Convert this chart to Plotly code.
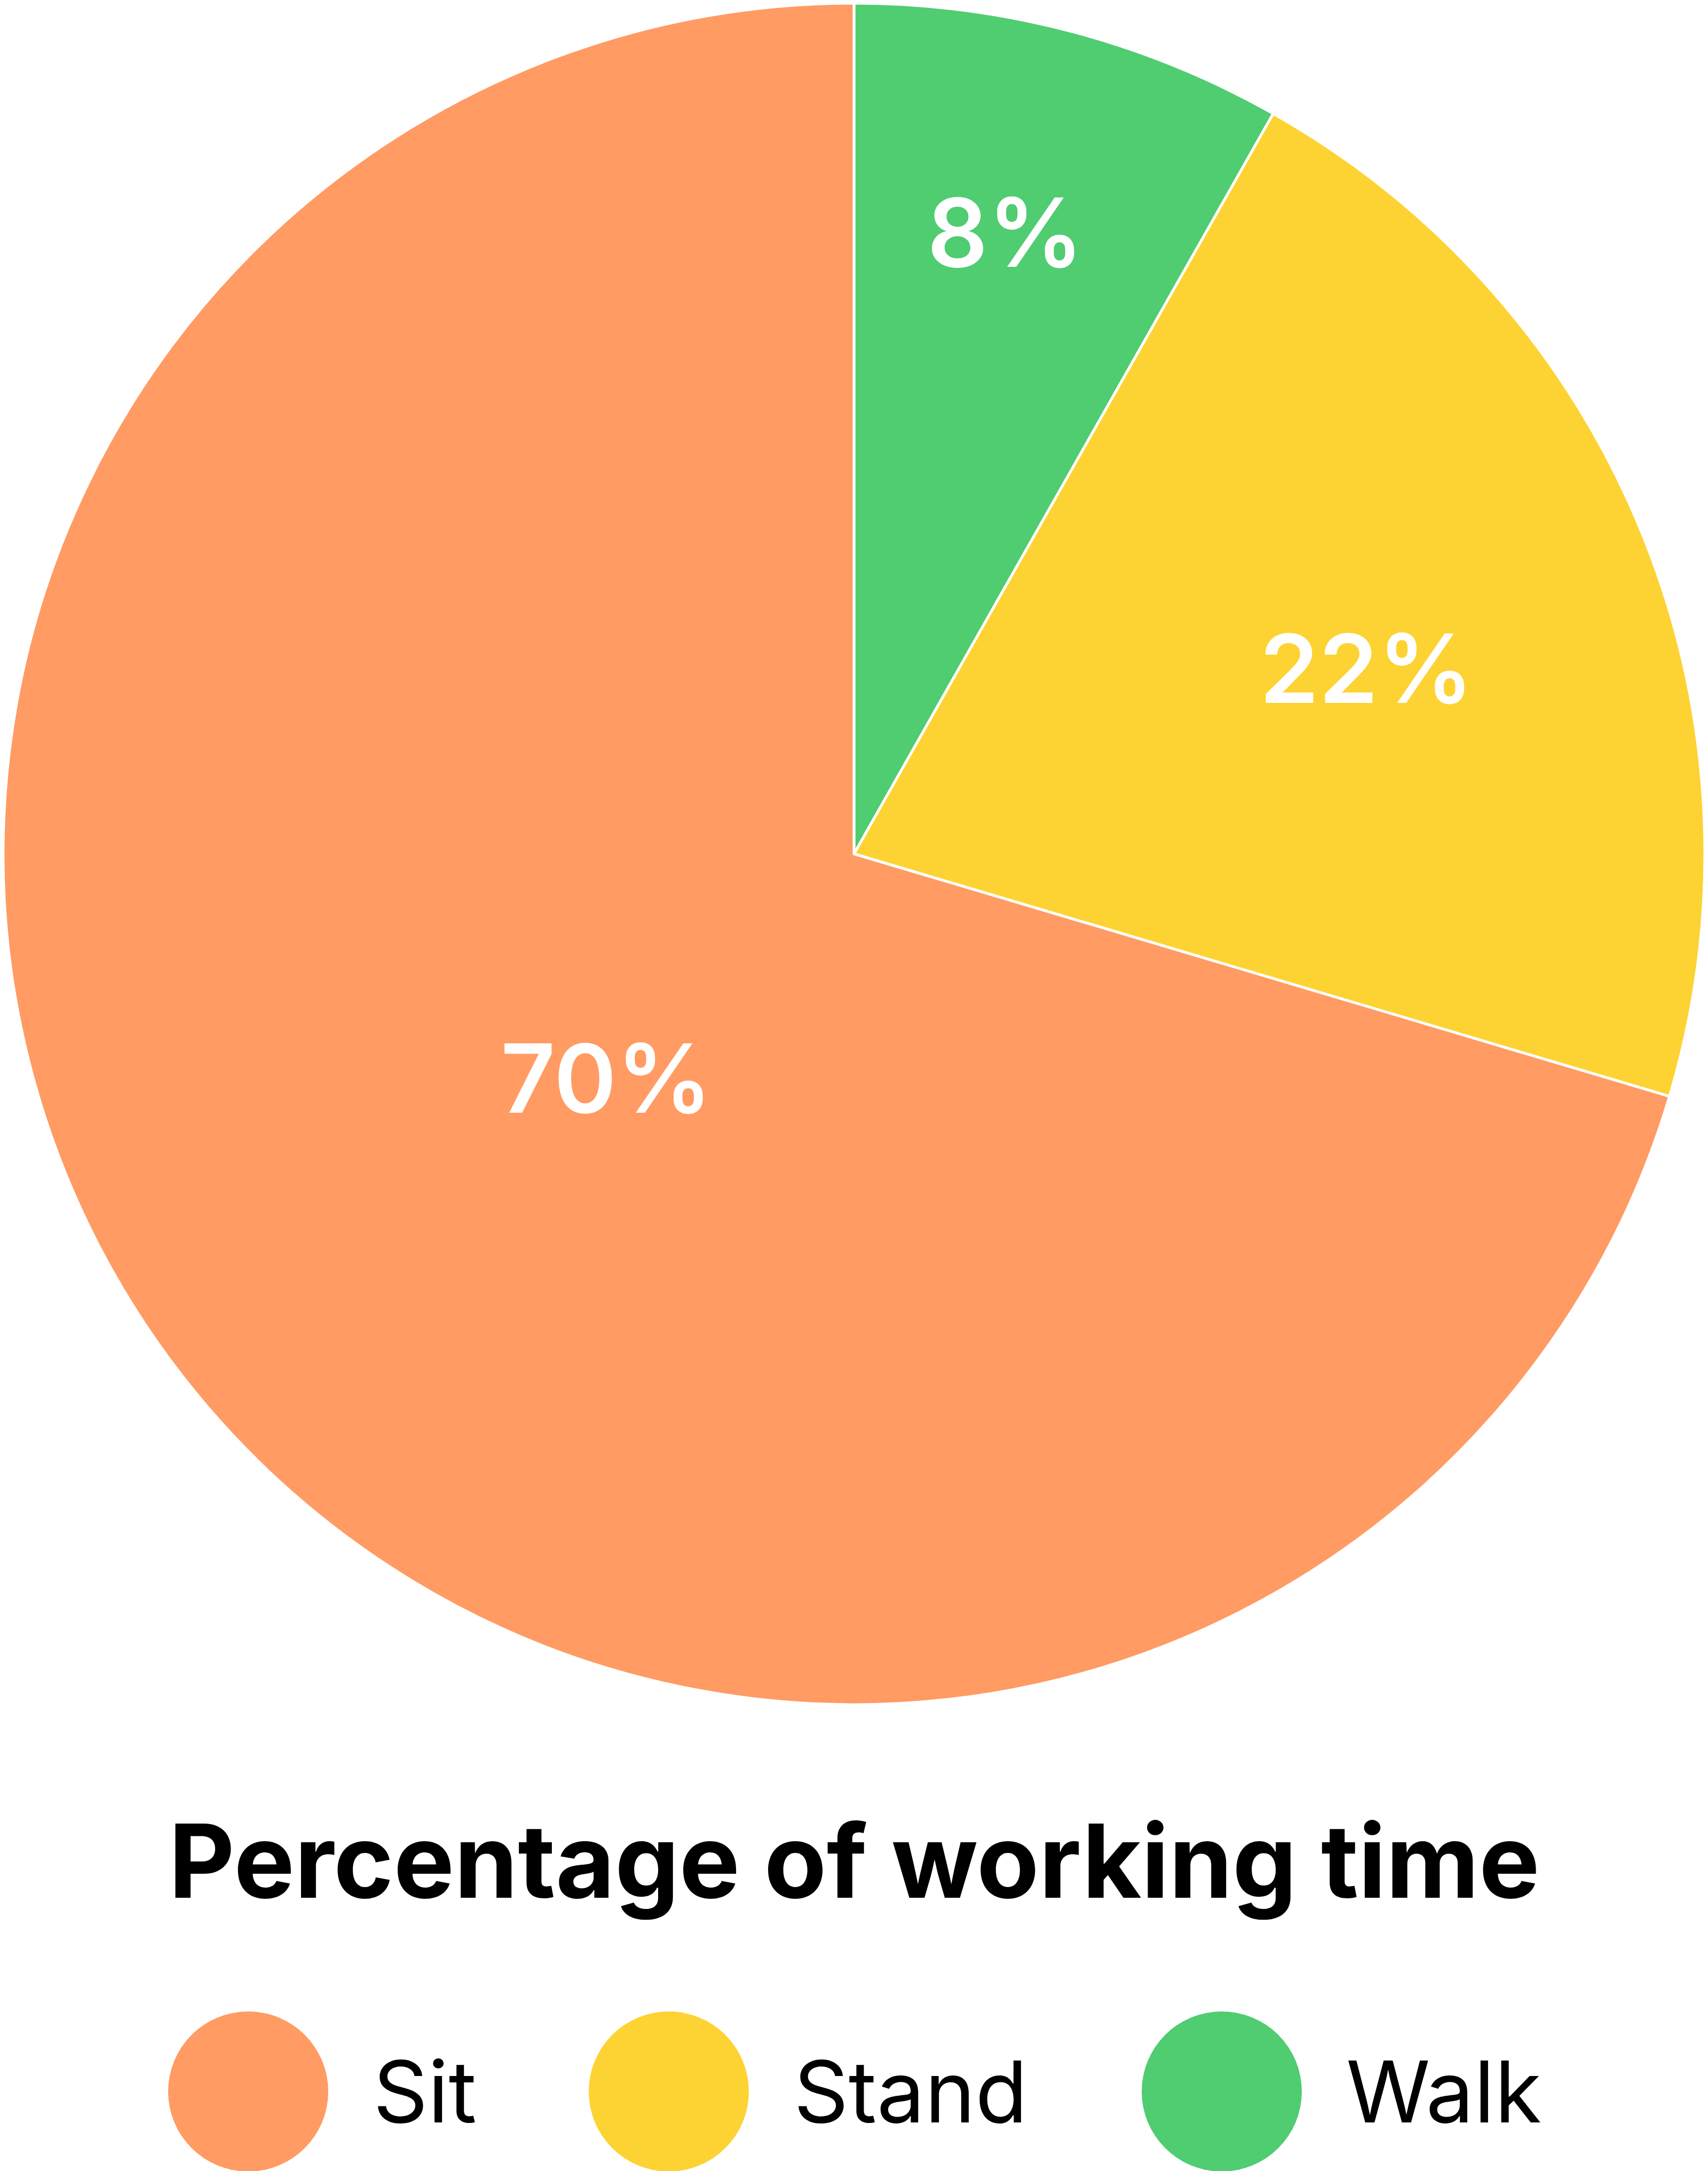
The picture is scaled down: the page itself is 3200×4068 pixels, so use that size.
import math
import plotly.graph_objects as go

# ---- data ----
categories = ["Sit", "Stand", "Walk"]
values = [70.4, 21.4, 8.2]                 # slice sizes
value_labels = ["70%", "22%", "8%"]         # printed labels
colors = ["#FF9B63", "#FDD333", "#50CC71"]
title_text = "Percentage of working time"

# ---- layout constants (pixels) ----
W, H = 3200, 4068
CX, CY, R = 1600, H - 1600, 1594           # pie centre / radius in pixel coords
label_r = [0.393, 0.641, 0.752]            # radial position of value labels (fraction of R)
label_dang = [-5.5, 2.1, -1.1]             # angular nudge of labels from slice mid-angle (deg)
legend_x = [465, 1253, 2289]
legend_text_x = [697, 1485, 2520]
legend_y = H - 3919

# pie drawn clockwise from 12 o'clock: Walk, Stand, Sit
pie_labels = categories[::-1]
pie_values = values[::-1]
pie_colors = colors[::-1]

fig = go.Figure()

fig.add_trace(go.Pie(
    labels=pie_labels,
    values=pie_values,
    marker=dict(colors=pie_colors, line=dict(color="white", width=5)),
    sort=False,
    direction="clockwise",
    rotation=0,
    textinfo="none",
    domain=dict(x=[(CX - R) / W, (CX + R) / W], y=[(CY - R) / H, (CY + R) / H]),
    showlegend=False,
    hoverinfo="label+percent",
))

# custom legend: circles
fig.add_trace(go.Scatter(
    x=legend_x,
    y=[legend_y] * len(categories),
    mode="markers",
    marker=dict(size=300, color=colors, line=dict(width=0)),
    showlegend=False,
    hoverinfo="skip",
    xaxis="x", yaxis="y",
))

annotations = []

# value labels placed around slice mid-angles computed from the data
total = sum(values)
mid = {}
acc = 0.0
for name, v in zip(pie_labels, pie_values):
    mid[name] = (acc + v / 2) / total * 360.0
    acc += v
for name, txt, rf, da in zip(categories, value_labels, label_r, label_dang):
    ang = math.radians(mid[name] + da)
    annotations.append(dict(
        x=CX + rf * R * math.sin(ang), y=CY + rf * R * math.cos(ang),
        xref="x", yref="y", text=txt, showarrow=False,
        xanchor="center", yanchor="middle",
        font=dict(size=178, color="white", family="Inter", weight=600),
    ))

for name, tx in zip(categories, legend_text_x):
    annotations.append(dict(
        x=tx, y=legend_y, xref="x", yref="y", text=name, showarrow=False,
        xanchor="left", yanchor="middle",
        font=dict(size=160, color="black", family="Inter"),
    ))
annotations.append(dict(
    x=W / 2, y=H - 3486, xref="x", yref="y", text=f"<b>{title_text}</b>", showarrow=False,
    xanchor="center", yanchor="middle",
    font=dict(size=191, color="black", family="Inter"),
))

fig.update_layout(
    width=W, height=H,
    margin=dict(l=0, r=0, t=0, b=0),
    paper_bgcolor="white", plot_bgcolor="rgba(0,0,0,0)",
    xaxis=dict(range=[0, W], visible=False, fixedrange=True),
    yaxis=dict(range=[0, H], visible=False, fixedrange=True),
    annotations=annotations,
    showlegend=False,
)

fig.write_html(
    "out.html",
    config={"displayModeBar": False},
    post_script="document.body.style.margin='0';document.body.style.overflow='hidden';",
)
